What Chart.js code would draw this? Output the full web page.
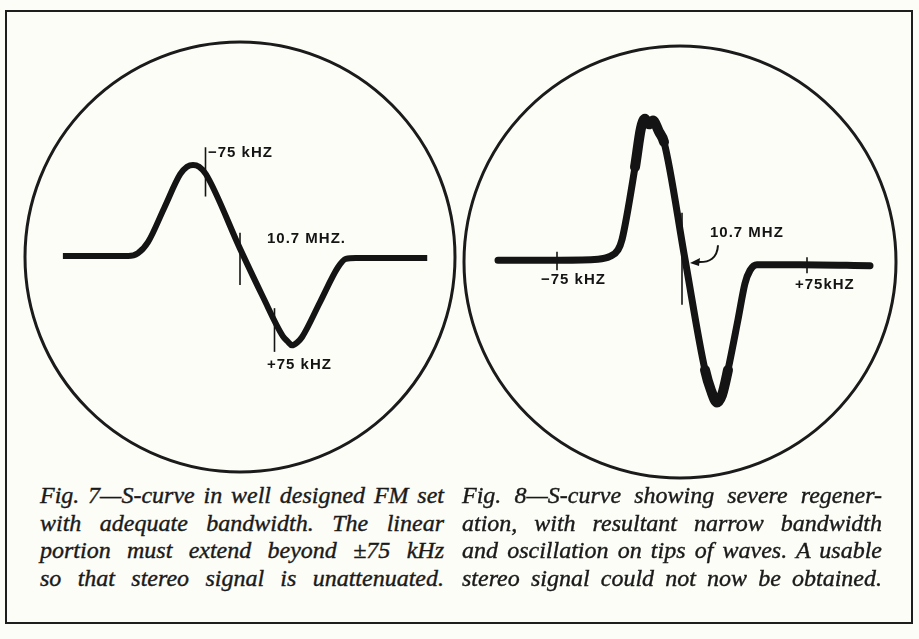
<!DOCTYPE html>
<html lang="en">
<head>
    <meta charset="UTF-8">
    <title>S-curves: Fig. 7 and Fig. 8</title>
    <script src="https://cdn.jsdelivr.net/npm/chart.js"></script>
    <style>
        body {
            margin: 0;
            background-color: #fdfdf8;
            width: 919px;
            height: 639px;
            position: relative;
            overflow: hidden;
        }
        .frame {
            position: absolute;
            left: 5px;
            top: 10px;
            width: 904px;
            height: 610px;
            border: 2.5px solid #1e1e1e;
        }
        canvas {
            position: absolute;
        }
        #fig7 { left: 15px; top: 32px; }
        #fig8 { left: 455px; top: 37px; }
        .caption {
            position: absolute;
            top: 482px;
            font-family: 'Liberation Serif', 'Times New Roman', serif;
            font-style: italic;
            font-size: 24px;
            line-height: 27.5px;
            color: #1a1a1a;
            -webkit-text-stroke: 0.4px #1a1a1a;
        }
        .caption p {
            margin: 0;
            text-align: justify;
            text-align-last: justify;
        }
    </style>
</head>
<body>
    <div class="frame"></div>
    <canvas id="fig7" width="450" height="450"></canvas>
    <canvas id="fig8" width="450" height="450"></canvas>

    <div class="caption" style="left: 40px; width: 404px;">
        <p>Fig. 7—S-curve in well designed FM set</p>
        <p>with adequate bandwidth. The linear</p>
        <p>portion must extend beyond ±75 kHz</p>
        <p>so that stereo signal is unattenuated.</p>
    </div>
    <div class="caption" style="left: 462px; width: 420px;">
        <p>Fig. 8—S-curve showing severe regener-</p>
        <p>ation, with resultant narrow bandwidth</p>
        <p>and oscillation on tips of waves. A usable</p>
        <p>stereo signal could not now be obtained.</p>
    </div>

    <script>
        // Fig. 7: well designed set (frequency offset in kHz, detector output)
        const fig7Freq = [-385, -243, -222, -200, -165, -130, -115, -102, -89, -74, 0, 50, 93, 104, 113, 124, 135, 174, 213, 230, 252, 407];
        const fig7Level = [0.01, 0.01, 0.04, 0.16, 0.525, 0.89, 0.97, 0.99, 0.97, 0.89, 0.09, -0.43, -0.85, -0.91, -0.95, -0.92, -0.86, -0.485, -0.11, -0.02, -0.01, -0.01];
        const fig7Markers = [-75, 0, 75];
        const fig7Labels = ['\u221275 kHZ', '10.7 MHZ.', '+75 kHZ'];

        // Fig. 8: regenerating set, oscillation on the tips
        const fig8Freq = [-110.4, -73.2, -50.4, -43.2, -38.4, -36.0, -28.2, -24.6, -22.2, -19.8, -17.4, -13.8, -10.8, 1.8, 13.8, 17.4, 21.0, 24.0, 27.6, 33.6, 37.8, 40.8, 45.0, 70.8, 112.8];
        const fig8Level = [0.02, 0.02, 0.03, 0.06, 0.13, 0.24, 1.02, 1.44, 1.54, 1.48, 1.52, 1.40, 1.29, 0.03, -1.16, -1.38, -1.51, -1.43, -1.16, -0.62, -0.23, -0.09, -0.03, -0.03, -0.04];
        const fig8Markers = [-75, 0, 75];
        const fig8Labels = ['\u221275 kHZ', '10.7 MHZ', '+75kHZ'];

        const ink = '#141414';

        // scope face, frequency markers, their labels and the pointer arrow
        const scopePlugin = {
            id: 'scope',
            beforeDatasetsDraw(chart, args, opts) {
                const ctx = chart.ctx;
                const a = chart.chartArea;
                ctx.save();
                ctx.beginPath();
                ctx.arc((a.left + a.right) / 2, (a.top + a.bottom) / 2, opts.radius, 0, Math.PI * 2);
                ctx.lineWidth = 3;
                ctx.strokeStyle = '#1b1b1b';
                ctx.stroke();
                ctx.restore();
            },
            afterDatasetsDraw(chart, args, opts) {
                const ctx = chart.ctx;
                const xs = chart.scales.x;
                const ys = chart.scales.y;
                ctx.save();
                ctx.strokeStyle = ink;
                ctx.lineWidth = 1.6;
                opts.markers.forEach((f, i) => {
                    const px = xs.getPixelForValue(f);
                    const span = opts.tickSpans[i];
                    ctx.beginPath();
                    ctx.moveTo(px, ys.getPixelForValue(span[0]));
                    ctx.lineTo(px, ys.getPixelForValue(span[1]));
                    ctx.stroke();
                });

                ctx.fillStyle = ink;
                ctx.font = 'bold 15px "Liberation Sans", Arial, sans-serif';
                ctx.letterSpacing = '1px';
                ctx.textBaseline = 'middle';
                opts.labels.forEach((text, i) => {
                    const at = opts.labelAt[i];
                    ctx.fillText(text, xs.getPixelForValue(at[0]), ys.getPixelForValue(at[1]));
                });

                if (opts.arrow) {
                    const [x0, y0, x1, y1, x2, y2] = opts.arrow;
                    const sx = xs.getPixelForValue(x0), sy = ys.getPixelForValue(y0);
                    const cx = xs.getPixelForValue(x1), cy = ys.getPixelForValue(y1);
                    const ex = xs.getPixelForValue(x2), ey = ys.getPixelForValue(y2);
                    ctx.lineWidth = 2;
                    ctx.beginPath();
                    ctx.moveTo(sx, sy);
                    ctx.quadraticCurveTo(cx, cy, ex + 6, ey - 1);
                    ctx.stroke();
                    ctx.beginPath();
                    ctx.moveTo(ex, ey);
                    ctx.lineTo(ex + 10, ey - 5);
                    ctx.lineTo(ex + 9, ey + 3);
                    ctx.closePath();
                    ctx.fill();
                }
                ctx.restore();
            }
        };

        function makeScope(id, freq, level, lineWidth, scope, xRange, yRange) {
            const points = freq.map((f, i) => ({ x: f, y: level[i] }));
            return new Chart(document.getElementById(id), {
                type: 'line',
                data: {
                    datasets: [{
                        data: points,
                        borderColor: ink,
                        borderWidth: lineWidth,
                        borderCapStyle: scope.thickTips ? 'round' : 'butt',
                        borderJoinStyle: 'round',
                        cubicInterpolationMode: 'monotone',
                        pointRadius: 0,
                        fill: false,
                        clip: false,
                        segment: scope.thickTips ? {
                            borderWidth: c => (Math.abs(c.p0.parsed.y) > 1.0 && Math.abs(c.p1.parsed.y) > 1.0) ? lineWidth + 3 : lineWidth
                        } : undefined
                    }]
                },
                options: {
                    responsive: false,
                    animation: false,
                    events: [],
                    layout: { padding: 0 },
                    scales: {
                        x: { type: 'linear', display: false, min: xRange[0], max: xRange[1] },
                        y: { display: false, min: yRange[0], max: yRange[1] }
                    },
                    plugins: {
                        legend: { display: false },
                        tooltip: { enabled: false },
                        scope: scope
                    }
                },
                plugins: [scopePlugin]
            });
        }

        makeScope('fig7', fig7Freq, fig7Level, 6, {
            radius: 215,
            markers: fig7Markers,
            tickSpans: [[1.18, 0.65], [0.26, -0.30], [-0.55, -1.02]],
            labels: fig7Labels,
            labelAt: [[-69.6, 1.12], [58.7, 0.20], [58.7, -1.16]]
        }, [-489.1, 489.1], [-2.419, 2.419]);

        makeScope('fig8', fig8Freq, fig8Level, 7, {
            radius: 216,
            thickTips: true,
            markers: fig8Markers,
            tickSpans: [[0.11, -0.09], [0.53, -0.46], [0.05, -0.12]],
            labels: fig8Labels,
            labelAt: [[-84.6, -0.19], [16.8, 0.31], [67.8, -0.25]],
            arrow: [21.6, 0.18, 21.0, -0.02, 4.8, -0.01]
        }, [-136.2, 133.8], [-2.419, 2.419]);
    </script>
</body>
</html>
